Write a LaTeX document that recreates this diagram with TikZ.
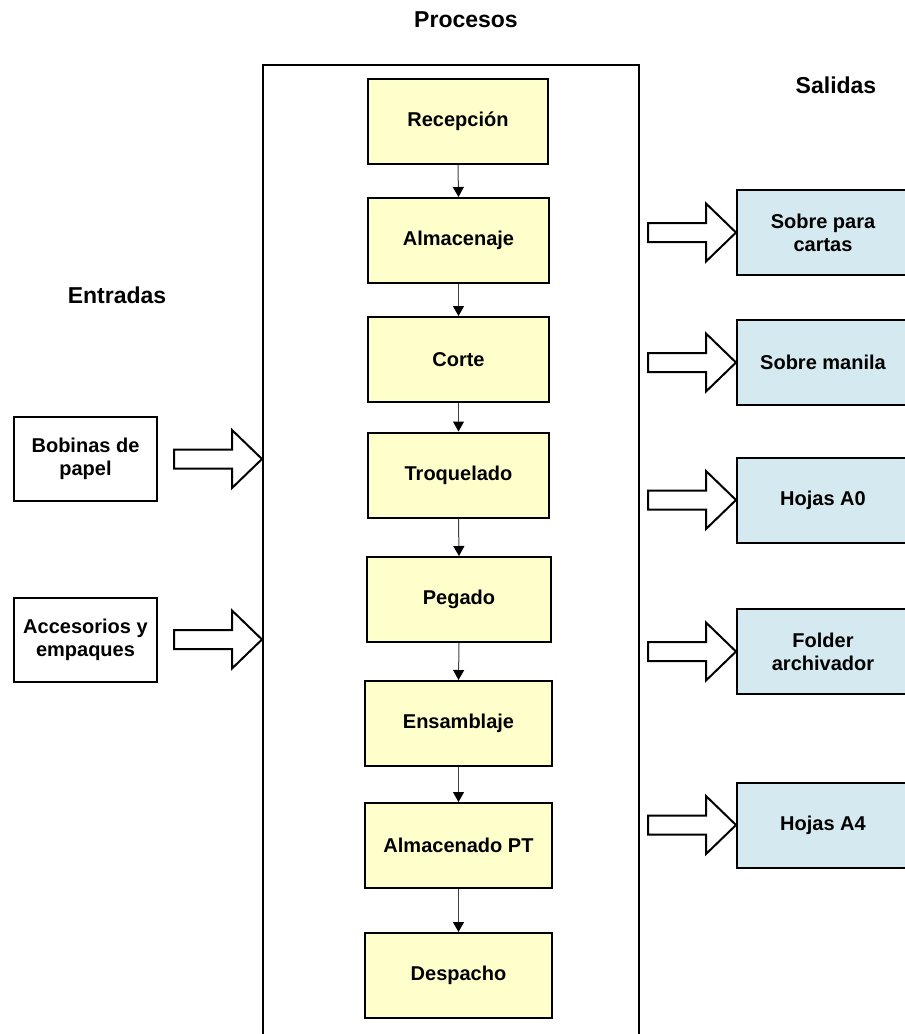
\documentclass[tikz,border=0pt]{standalone}
\usepackage{fontspec}
\setmainfont{Liberation Sans}
\usetikzlibrary{arrows.meta}

\definecolor{procfill}{RGB}{255,255,204}
\definecolor{outfill}{RGB}{212,234,240}
\newcommand{\boxfont}{\bfseries\fontsize{20}{23}\selectfont}
\newcommand{\headfont}{\bfseries\fontsize{23}{26}\selectfont}

\tikzset{
  procbox/.style={draw=black, line width=2pt, fill=procfill, minimum height=85pt,
    inner sep=0pt, align=center, font=\boxfont},
  inbox/.style={draw=black, line width=2pt, fill=white, minimum width=143pt,
    minimum height=84pt, inner sep=0pt, align=center, font=\boxfont},
  outbox/.style={draw=black, line width=2pt, fill=outfill, minimum width=172pt,
    minimum height=85pt, inner sep=0pt, align=center, font=\boxfont},
  framebox/.style={draw=black, line width=2pt, minimum width=376pt,
    minimum height=1020pt, inner sep=0pt},
  heading/.style={font=\headfont, inner sep=0pt},
  flow/.style={draw=black!75, line width=1pt,
    -{Triangle[width=11pt,length=10pt,black]}},
  blockarrow/.style={draw=black, line width=2pt, fill=white, line join=miter}
}

% hollow block arrow ending with its tip at the given point
\newcommand{\hollowarrow}[1]{%
  \draw[blockarrow] (#1) -- ++(-30,-29) -- ++(0,19.5) -- ++(-58,0)
    -- ++(0,19) -- ++(58,0) -- ++(0,19.5) -- cycle;}

\begin{document}
\begin{tikzpicture}[x=1pt,y=-1pt]
\useasboundingbox (0,0) rectangle (905,1034);
\clip (0,0) rectangle (905,1034);

% headings
\node[heading] (hproc) at (466,20) {Procesos};
\node[heading] (hout) at (836,85) {Salidas};
\node[heading] (hin) at (117,295) {Entradas};

% process frame
\node[framebox, anchor=north west] (frame) at (262,64) {};

% process steps
\node[procbox, minimum width=180pt] (p1) at (458,121.5) {Recepción};
\node[procbox, minimum width=181pt] (p2) at (458.5,240.5) {Almacenaje};
\node[procbox, minimum width=181pt] (p3) at (458.5,359.5) {Corte};
\node[procbox, minimum width=181pt] (p4) at (458.5,475) {Troquelado};
\node[procbox, minimum width=184pt] (p5) at (459,599.5) {Pegado};
\node[procbox, minimum width=187pt] (p6) at (458.5,723.5) {Ensamblaje};
\node[procbox, minimum width=187pt] (p7) at (458.5,845.5) {Almacenado PT};
\node[procbox, minimum width=187pt] (p8) at (458.5,975.5) {Despacho};

\foreach \a/\b in {p1/p2,p2/p3,p3/p4,p4/p5,p5/p6,p6/p7,p7/p8}
  \draw[flow] (\a.south) -- (\b.north);

% inputs
\node[inbox] (in1) at (85.5,459) {Bobinas de\\papel};
\node[inbox] (in2) at (85.5,639.5) {Accesorios y\\empaques};
\hollowarrow{frame.west |- in1.east}
\hollowarrow{frame.west |- in2.east}

% outputs
\node[outbox] (o1) at (823,232.5) {Sobre para\\cartas};
\node[outbox] (o2) at (823,362.5) {Sobre manila};
\node[outbox] (o3) at (823,500) {Hojas A0};
\node[outbox] (o4) at (823,651.5) {Folder\\archivador};
\node[outbox] (o5) at (823,825) {Hojas A4};
\foreach \o in {o1,o2,o3,o4,o5}{\hollowarrow{\o.west}}
\end{tikzpicture}
\end{document}
